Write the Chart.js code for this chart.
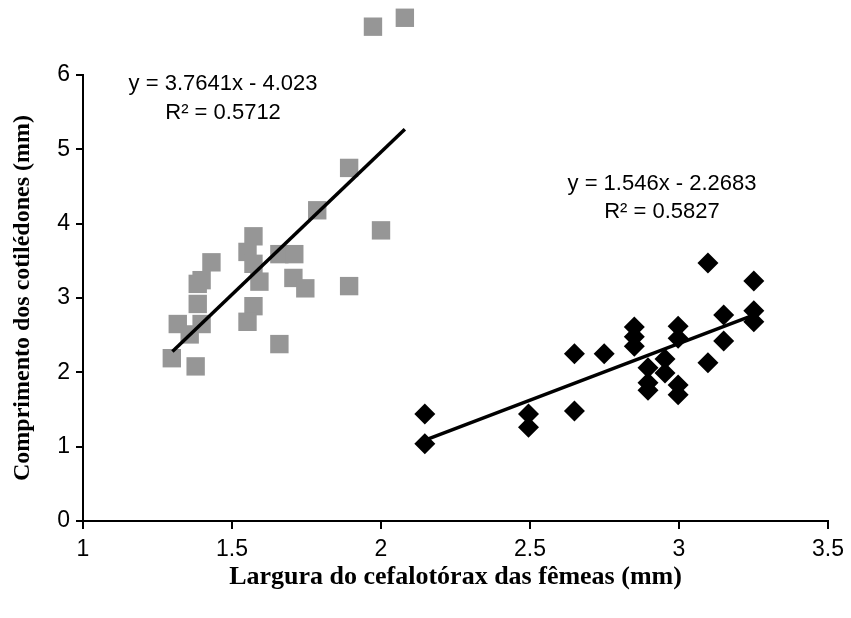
<!DOCTYPE html>
<html>
<head>
<meta charset="utf-8">
<script src="https://cdn.jsdelivr.net/npm/chart.js@4/dist/chart.umd.min.js"></script>
<style>
  html, body { margin: 0; padding: 0; background: #fff; }
  #wrap { width: 851px; height: 618px; }
</style>
</head>
<body>
<div id="wrap"><canvas id="chart"></canvas></div>
<script>
// Gray squares (first group)
const grayX = [1.786, 2.0, 1.572, 1.552, 1.659, 1.709, 1.431, 1.572, 1.398, 1.385, 1.592, 1.706, 1.746,
               1.893, 1.385, 1.572, 1.318, 1.398, 1.358, 1.552, 1.659, 1.298, 1.378, 1.973, 2.08, 1.893];
const grayY = [4.18, 3.91, 3.83, 3.62, 3.59, 3.59, 3.48, 3.46, 3.24, 3.19, 3.22, 3.27, 3.13,
               3.16, 2.92, 2.89, 2.65, 2.65, 2.51, 2.68, 2.38, 2.19, 2.08, 6.65, 6.77, 4.75];

// Black diamonds (second group)
const blackX = [3.097, 3.251, 3.15, 3.251, 3.251, 2.85, 2.85, 2.85, 2.997, 2.997, 3.15, 2.649, 2.749,
                2.953, 2.896, 2.953, 3.097, 2.896, 2.896, 2.997, 2.997, 2.147, 2.147, 2.495, 2.495, 2.649];
const blackY = [3.47, 3.23, 2.77, 2.83, 2.68, 2.61, 2.48, 2.35, 2.62, 2.46, 2.42, 2.25, 2.25,
                2.18, 2.06, 1.99, 2.13, 1.86, 1.76, 1.83, 1.70, 1.44, 1.04, 1.44, 1.26, 1.48];

// trend line end points as drawn
const trend1X = [1.30, 2.08];
const trend1Y = [2.28, 5.27];
const trend2X = [2.15, 3.25];
const trend2Y = [1.09, 2.77];

// equation labels
const eqText = ['y = 3.7641x - 4.023', 'R² = 0.5712', 'y = 1.546x - 2.2683', 'R² = 0.5827'];
const eqX = [1.47, 1.47, 2.943, 2.943];
const eqY = [5.88, 5.49, 4.53, 4.16];

const toPts = (xs, ys) => xs.map((x, i) => ({ x: x, y: ys[i] }));

const eqPlugin = {
  id: 'eqLabels',
  afterDatasetsDraw(chart) {
    const { ctx, scales } = chart;
    ctx.save();
    ctx.fillStyle = '#000';
    ctx.font = '22px "Liberation Sans", Arial, sans-serif';
    ctx.textAlign = 'center';
    ctx.textBaseline = 'middle';
    eqText.forEach((t, i) => {
      ctx.fillText(t, scales.x.getPixelForValue(eqX[i]), scales.y.getPixelForValue(eqY[i]));
    });
    ctx.restore();
  }
};

// let points above the y max (6) still be drawn, like the original
const overflowPlugin = {
  id: 'overflow',
  beforeDatasetsDraw(chart) {
    chart._savedArea = chart.chartArea;
    chart.chartArea = Object.assign({}, chart.chartArea, { top: 0 });
  },
  afterDatasetsDraw(chart) {
    chart.chartArea = chart._savedArea;
  }
};

const tickFont = { family: '"Liberation Sans", Arial, sans-serif', size: 23 };
const titleFamily = '"Liberation Serif", "Times New Roman", serif';

new Chart(document.getElementById('chart'), {
  type: 'scatter',
  data: {
    datasets: [
      {
        type: 'line', data: toPts(trend1X, trend1Y), borderColor: '#000', borderWidth: 3.5,
        pointRadius: 0, fill: false, order: 0
      },
      {
        type: 'line', data: toPts(trend2X, trend2Y), borderColor: '#000', borderWidth: 3.5,
        pointRadius: 0, fill: false, order: 0
      },
      {
        data: toPts(grayX, grayY), pointStyle: 'rect', pointRadius: 13, pointHoverRadius: 13,
        backgroundColor: '#969696', borderWidth: 0, clip: false, order: 1
      },
      {
        data: toPts(blackX, blackY), pointStyle: 'rectRot', pointRadius: 10.5, pointHoverRadius: 10.5,
        backgroundColor: '#000', borderWidth: 0, clip: false, order: 1
      }
    ]
  },
  options: {
    responsive: true,
    maintainAspectRatio: false,
    animation: false,
    layout: { padding: { top: 75, right: 18, left: 0, bottom: 0 } },
    plugins: { legend: { display: false }, tooltip: { enabled: false } },
    scales: {
      x: {
        type: 'linear', min: 1, max: 3.5,
        afterFit: s => { s.height = 97; },
        ticks: { stepSize: 0.5, color: '#000', font: tickFont, padding: 7, callback: v => String(v) },
        grid: { drawOnChartArea: false, drawTicks: true, tickLength: 8, color: '#000', lineWidth: 2 },
        border: { display: true, color: '#000', width: 2 },
        title: { display: true, text: 'Largura do cefalotórax das fêmeas (mm)', color: '#000',
                 font: { family: titleFamily, size: 26, weight: 'bold' },
                 padding: { top: 0, bottom: 25 } }
      },
      y: {
        min: 0, max: 6,
        afterFit: s => { s.width = 83; s.paddingTop = 0; s.paddingBottom = 0; },
        ticks: { stepSize: 1, color: '#000', font: tickFont, padding: 6 },
        grid: { drawOnChartArea: false, drawTicks: true, tickLength: 7, color: '#000', lineWidth: 2 },
        border: { display: true, color: '#000', width: 2 },
        title: { display: true, text: 'Comprimento dos cotilédones (mm)', color: '#000',
                 font: { family: titleFamily, size: 24, weight: 'bold' },
                 padding: { top: 8, bottom: 0 } }
      }
    }
  },
  plugins: [overflowPlugin, eqPlugin]
});
</script>
</body>
</html>
